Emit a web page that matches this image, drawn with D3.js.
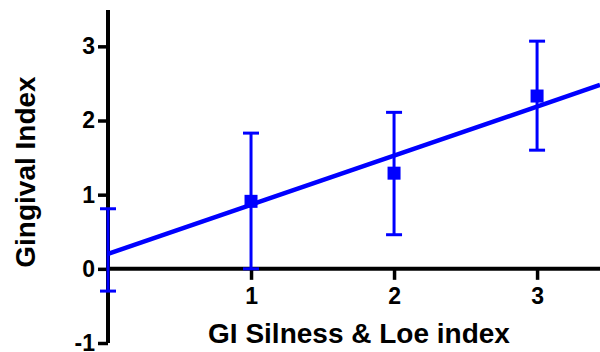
<!DOCTYPE html>
<html>
<head>
<meta charset="utf-8">
<script src="https://cdn.jsdelivr.net/npm/d3@7"></script>
<style>
  html, body { margin: 0; padding: 0; background: #fff; }
  svg { display: block; }
  text { font-family: "Liberation Sans", Arial, sans-serif; font-weight: bold; fill: #000; }
</style>
</head>
<body>
<script>
// Group values: GI Silness & Loe score vs. mean gingival index with SD bars
const xValues    = [0, 1, 2, 3];
const meanValues = [0.25, 0.91, 1.29, 2.33];
const lowValues  = [-0.30, 0.00, 0.46, 1.60];
const highValues = [0.81, 1.83, 2.11, 3.07];

const xTicks = [1, 2, 3];
const yTicks = [-1, 0, 1, 2, 3];
const xTitle = "GI Silness & Loe index";
const yTitle = "Gingival Index";

const W = 600, H = 352;
const blue = "#0000ff";
const font = "'Liberation Sans', Arial, sans-serif";

const svg = d3.select("body").append("svg").attr("width", W).attr("height", H);

const x = d3.scaleLinear().domain([0, 3.44]).range([108, 600]);
const y = d3.scaleLinear().domain([-1, 3.49]).range([343, 10]);

// Least-squares fit through the group means
const mx = d3.mean(xValues), my = d3.mean(meanValues);
const slope = d3.sum(xValues, (v, i) => (v - mx) * (meanValues[i] - my)) /
              d3.sum(xValues, v => (v - mx) * (v - mx));
const intercept = my - slope * mx;

// Axes
const xAxis = d3.axisBottom(x).tickValues(xTicks).tickSize(11).tickPadding(8).tickFormat(d3.format("d"));
const yAxis = d3.axisLeft(y).tickValues(yTicks).tickSize(10).tickPadding(3).tickFormat(d3.format("d"));

const gx = svg.append("g").attr("transform", `translate(0,${y(0)})`).call(xAxis);
const gy = svg.append("g").attr("transform", `translate(${x(0)},0)`).call(yAxis);

[gx, gy].forEach(g => {
  g.attr("font-size", null).attr("font-family", null);
  g.select(".domain").attr("stroke", "#000").attr("stroke-width", 4);
  g.selectAll(".tick line").attr("stroke", "#000").attr("stroke-width", 3.5);
  g.selectAll(".tick text")
    .style("font-size", "23px").style("font-family", font).style("font-weight", "bold")
    .attr("fill", "#000");
});
gx.select(".domain").attr("d", `M${x(0)},0H${W}`);
gy.select(".domain").attr("d", `M0,${y(3.49)}V${y(-1)}`);
// Negative tick labels use a plain hyphen
gy.selectAll(".tick text").text(d => d < 0 ? "-" + Math.abs(d) : d);

// Regression line
const xr = x.domain();
svg.append("line")
  .attr("x1", x(xr[0])).attr("y1", y(intercept + slope * xr[0]))
  .attr("x2", x(xr[1])).attr("y2", y(intercept + slope * xr[1]))
  .attr("stroke", blue).attr("stroke-width", 4.5);

// Error bars
const bars = svg.append("g").attr("stroke", blue).attr("stroke-width", 3);
xValues.forEach((xv, i) => {
  const cx = x(xv);
  bars.append("line").attr("x1", cx).attr("x2", cx).attr("y1", y(lowValues[i])).attr("y2", y(highValues[i]));
  [lowValues[i], highValues[i]].forEach(v => {
    bars.append("line").attr("x1", cx - 8).attr("x2", cx + 8).attr("y1", y(v)).attr("y2", y(v));
  });
});

// Mean markers (the group at x = 0 sits on the axis and is not marked)
const s = 13;
svg.append("g").selectAll("rect")
  .data(xValues.map((xv, i) => ({ xv, m: meanValues[i] })).filter(d => d.xv > 0))
  .join("rect")
  .attr("x", d => x(d.xv) - s / 2).attr("y", d => y(d.m) - s / 2)
  .attr("width", s).attr("height", s).attr("fill", blue);

// Titles
svg.append("text").attr("x", 359).attr("y", 343).attr("text-anchor", "middle")
  .style("font-size", "28px").text(xTitle);
svg.append("text").attr("transform", `translate(35,172) rotate(-90)`).attr("text-anchor", "middle")
  .style("font-size", "28px").text(yTitle);
</script>
</body>
</html>
